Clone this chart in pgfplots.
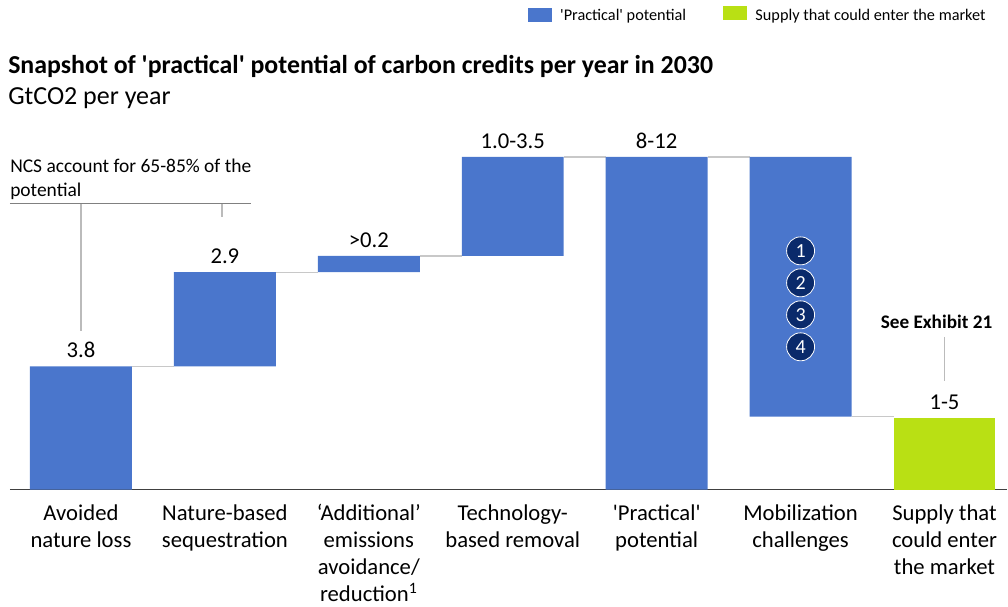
\documentclass[border=0pt]{standalone}
\usepackage{pgfplots}
\pgfplotsset{compat=1.18}
\usepackage{pgfplotstable}
\usepackage{fontspec}
% newfontfamily keeps the straight quotes (no TeX ligature mapping)
\newfontfamily\calfont{Carlito}
\definecolor{barblue}{HTML}{4A76CC}
\definecolor{supplygreen}{HTML}{B9E014}
\definecolor{navy}{HTML}{0A2A6B}
\definecolor{conn}{HTML}{C8C8C8}
\definecolor{leadline}{HTML}{BBBBBB}

% base = invisible part of the waterfall, in units of about 1 GtCO2
\pgfplotstableread{
x base practical supply
0 0    3.80  0
1 3.80 2.90  0
2 6.70 0.50  0
3 7.20 3.05  0
4 0    10.25 0
5 2.25 8.00  0
6 0    0     2.20
}\wfdata

\begin{document}
\calfont
\begin{tikzpicture}
\path (0,0) rectangle (756pt,453.75pt);
\begin{axis}[
  at={(7.5pt,86.25pt)}, anchor=south west,
  scale only axis, width=748.5pt, height=249.75pt,
  xmin=-0.493, xmax=6.4375, ymin=0, ymax=10.25,
  ybar stacked, bar width=76.5pt,
  clip=false,
  axis x line*=bottom, axis y line=none,
  axis line style={black!75, line width=0.8pt},
  xtick={0,...,6}, major tick length=0pt,
  xticklabels={{Avoided\\nature loss},{Nature-based\\sequestration},{‘Additional’\\emissions\\avoidance/\\reduction\textsuperscript{1}},{Technology-\\based removal},{'Practical'\\potential},{Mobilization\\challenges},{Supply that\\could enter\\the market}},
  xticklabel style={align=center, anchor=north, yshift=-7.5pt, font=\fontsize{17}{20.25}\selectfont},
  legend style={at={(0.985,1.462)}, anchor=north east, draw=none, fill=none, legend columns=2, font=\fontsize{12.2}{14}\selectfont, /tikz/every even column/.append style={column sep=26pt}},
  legend cell align=left,
]
\addplot[draw=none, fill=none, forget plot] table[x=x, y=base] {\wfdata};
\addplot[draw=none, fill=barblue, legend image code/.code={\fill[barblue] (0pt,-5.25pt) rectangle (18pt,5.25pt); \path (22pt,0pt);}] table[x=x, y=practical] {\wfdata};
\addplot[draw=none, fill=supplygreen, legend image code/.code={\fill[supplygreen] (0pt,-3.75pt) rectangle (18pt,6.75pt); \path (22pt,0pt);}] table[x=x, y=supply] {\wfdata};
\legend{'Practical' potential, Supply that could enter the market}

% connectors
\draw[conn, line width=0.9pt] (axis cs:0.354,3.8) -- (axis cs:0.646,3.8);
\draw[conn, line width=0.9pt] (axis cs:1.354,6.7) -- (axis cs:1.646,6.7);
\draw[conn, line width=0.9pt] (axis cs:2.354,7.2) -- (axis cs:2.646,7.2);
\draw[conn, line width=0.9pt] (axis cs:3.354,10.25) -- (axis cs:3.646,10.25);
\draw[conn, line width=0.9pt] (axis cs:4.354,10.25) -- (axis cs:4.646,10.25);
\draw[conn, line width=0.9pt] (axis cs:5.354,2.25) -- (axis cs:5.646,2.25);

% value labels
\tikzset{vallab/.style={anchor=base, font=\fontsize{17}{20}\selectfont, inner sep=0pt, yshift=6.5pt}}
\node[vallab] at (axis cs:0,3.8) {3.8};
\node[vallab] at (axis cs:1,6.7) {2.9};
\node[vallab] at (axis cs:2,7.2) {>0.2};
\node[vallab] at (axis cs:3,10.25) {1.0-3.5};
\node[vallab] at (axis cs:4,10.25) {8-12};
\node[vallab] at (axis cs:6,2.2) {1-5};
\end{axis}

\begin{scope}[x=0.75pt, y=-0.75pt, shift={(0,453.75pt)}]
  \node[anchor=west, inner sep=0pt, font=\bfseries\fontsize{19.4}{22}\selectfont] at (8,66) {Snapshot of 'practical' potential of carbon credits per year in 2030};
  \node[anchor=west, inner sep=0pt, font=\fontsize{19.5}{22}\selectfont] at (8,98) {GtCO2 per year};
  \node[anchor=west, inner sep=0pt, font=\fontsize{14.6}{16}\selectfont] at (10,166) {NCS account for 65-85\% of the};
  \node[anchor=west, inner sep=0pt, font=\fontsize{14.6}{16}\selectfont] at (10,191) {potential};
  \draw[black!50, line width=0.8pt] (10,204) -- (251,204);
  \draw[leadline, line width=1pt] (81,204) -- (81,331);
  \draw[leadline, line width=1pt] (222,204) -- (222,217);
  \node[inner sep=0pt, font=\bfseries\fontsize{14.4}{16}\selectfont] at (937,322) {See Exhibit 21};
  \draw[leadline, line width=1pt] (945,337) -- (945,381);
  % numbered markers sit on top of the bars, so they come after the axis
  \foreach \yy/\lab in {251/1,283/2,315/3,347/4}
    \node[circle, fill=navy, draw=white, line width=0.6pt, text=white, minimum size=21pt, inner sep=0pt, font=\fontsize{15}{17}\selectfont] at (801,\yy) {\lab};
\end{scope}
\end{tikzpicture}
\end{document}
